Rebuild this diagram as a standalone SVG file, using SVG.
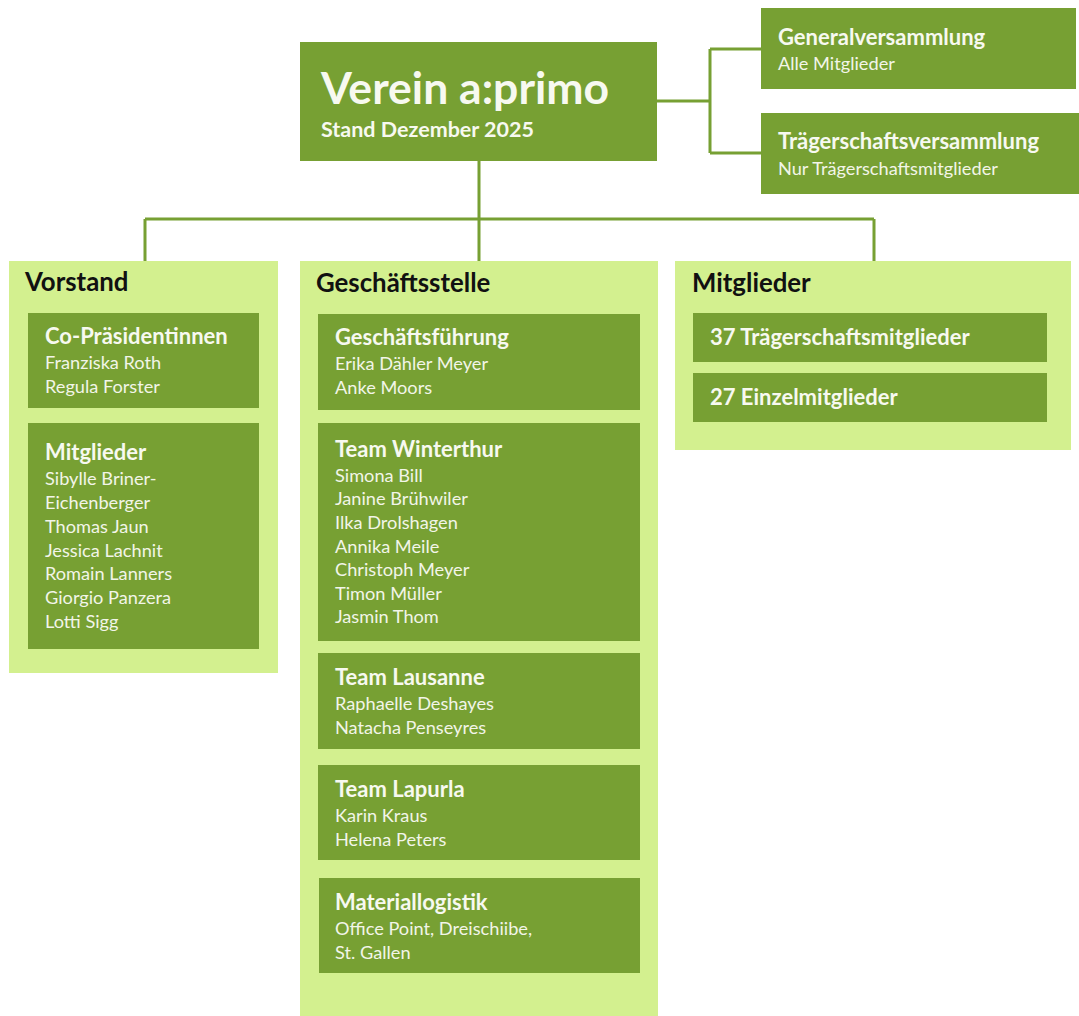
<svg xmlns="http://www.w3.org/2000/svg" width="1079" height="1016" viewBox="0 0 1079 1016">
<style>
.dark{fill:#77a033}
.panel{fill:#d3f08f}
.conn{stroke:#77a033;stroke-width:3;fill:none}
text{font-family:Lato,"Liberation Sans",sans-serif}
.h{font-size:22px;font-weight:bold;fill:#f7f9f0}
.s{font-size:18.2px;fill:#f2f5e8}
.p{font-size:25.8px;font-weight:bold;fill:#111}
</style>
<rect width="1079" height="1016" fill="#fff"/>
<g id="connectors">
<path class="conn" d="M657,101 H710 M710,49 V153 M710,49 H761 M710,153 H761"/>
<path class="conn" d="M479,161 V261 M145,219 H874 M145,219 V261 M874,219 V261"/>
</g>
<g id="root">
<rect class="dark" x="300" y="42" width="357" height="119"/>
<text x="321" y="104" style="font-size:44.5px;font-weight:bold;fill:#f7f9f0">Verein a:primo</text>
<text x="321" y="137" style="font-size:21.5px;font-weight:bold;fill:#f7f9f0">Stand Dezember 2025</text>
</g>
<g id="generalversammlung">
<rect class="dark" x="761" y="8" width="315" height="81"/>
<text class="h" x="778" y="45">Generalversammlung</text>
<text class="s" x="778" y="70">Alle Mitglieder</text>
</g>
<g id="traegerschaftsversammlung">
<rect class="dark" x="761" y="113" width="318" height="81"/>
<text class="h" x="778" y="149">Trägerschaftsversammlung</text>
<text class="s" x="778" y="175">Nur Trägerschaftsmitglieder</text>
</g>
<g id="vorstand">
<rect class="panel" x="9" y="261" width="269" height="412"/>
<text class="p" x="25" y="291">Vorstand</text>
<g id="co-praesidentinnen">
<rect class="dark" x="28" y="313" width="231" height="95"/>
<text class="h" x="45" y="344">Co-Präsidentinnen</text>
<text class="s" x="45" y="369">Franziska Roth</text>
<text class="s" x="45" y="393">Regula Forster</text>
</g>
<g id="vorstand-mitglieder">
<rect class="dark" x="28" y="423" width="231" height="226"/>
<text class="h" x="45" y="460">Mitglieder</text>
<text class="s" x="45" y="485">Sibylle Briner-</text>
<text class="s" x="45" y="509">Eichenberger</text>
<text class="s" x="45" y="533">Thomas Jaun</text>
<text class="s" x="45" y="557">Jessica Lachnit</text>
<text class="s" x="45" y="580">Romain Lanners</text>
<text class="s" x="45" y="604">Giorgio Panzera</text>
<text class="s" x="45" y="628">Lotti Sigg</text>
</g>
</g>
<g id="geschaeftsstelle">
<rect class="panel" x="300" y="261" width="358" height="760"/>
<text class="p" x="316" y="292">Geschäftsstelle</text>
<g id="geschaeftsfuehrung">
<rect class="dark" x="318" y="314" width="322" height="96"/>
<text class="h" x="335" y="345">Geschäftsführung</text>
<text class="s" x="335" y="370">Erika Dähler Meyer</text>
<text class="s" x="335" y="394">Anke Moors</text>
</g>
<g id="team-winterthur">
<rect class="dark" x="318" y="423" width="322" height="218"/>
<text class="h" x="335" y="457">Team Winterthur</text>
<text class="s" x="335" y="482">Simona Bill</text>
<text class="s" x="335" y="505">Janine Brühwiler</text>
<text class="s" x="335" y="529">Ilka Drolshagen</text>
<text class="s" x="335" y="553">Annika Meile</text>
<text class="s" x="335" y="576">Christoph Meyer</text>
<text class="s" x="335" y="600">Timon Müller</text>
<text class="s" x="335" y="623">Jasmin Thom</text>
</g>
<g id="team-lausanne">
<rect class="dark" x="318" y="653" width="322" height="96"/>
<text class="h" x="335" y="685">Team Lausanne</text>
<text class="s" x="335" y="710">Raphaelle Deshayes</text>
<text class="s" x="335" y="734">Natacha Penseyres</text>
</g>
<g id="team-lapurla">
<rect class="dark" x="318" y="765" width="322" height="95"/>
<text class="h" x="335" y="797">Team Lapurla</text>
<text class="s" x="335" y="822">Karin Kraus</text>
<text class="s" x="335" y="846">Helena Peters</text>
</g>
<g id="materiallogistik">
<rect class="dark" x="319" y="878" width="321" height="95"/>
<text class="h" x="335" y="910">Materiallogistik</text>
<text class="s" x="335" y="935">Office Point, Dreischiibe,</text>
<text class="s" x="335" y="959">St. Gallen</text>
</g>
</g>
<g id="mitglieder">
<rect class="panel" x="675" y="261" width="396" height="189"/>
<text class="p" x="692" y="292">Mitglieder</text>
<g id="traegerschaftsmitglieder">
<rect class="dark" x="693" y="313" width="354" height="49"/>
<text class="h" x="710" y="345">37 Trägerschaftsmitglieder</text>
</g>
<g id="einzelmitglieder">
<rect class="dark" x="693" y="373" width="354" height="49"/>
<text class="h" x="710" y="405">27 Einzelmitglieder</text>
</g>
</g>
</svg>
